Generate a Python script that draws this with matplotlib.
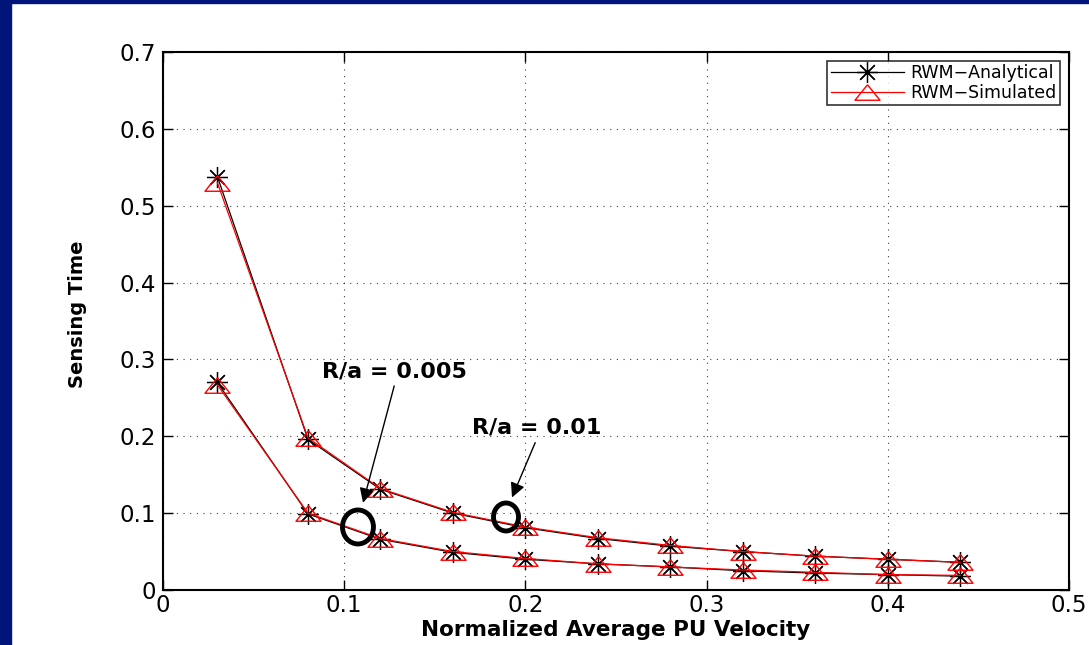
import numpy as np
import matplotlib
matplotlib.use("Agg")
import matplotlib.pyplot as plt
from matplotlib.patches import Rectangle, Ellipse

# normalized average PU velocity
velocity = [0.03, 0.08, 0.12, 0.16, 0.20, 0.24, 0.28, 0.32, 0.36, 0.40, 0.44]

# R/a = 0.01 (upper curves)
upper_analytical = [0.538, 0.196, 0.131, 0.100, 0.081, 0.067, 0.057, 0.050, 0.044, 0.040, 0.036]
upper_simulated = [0.530, 0.198, 0.132, 0.101, 0.082, 0.068, 0.058, 0.050, 0.044, 0.040, 0.036]

# R/a = 0.005 (lower curves)
lower_analytical = [0.270, 0.099, 0.066, 0.049, 0.040, 0.034, 0.030, 0.025, 0.022, 0.020, 0.018]
lower_simulated = [0.267, 0.100, 0.067, 0.050, 0.041, 0.034, 0.030, 0.026, 0.023, 0.020, 0.019]

plt.rcParams['font.family'] = ['DejaVu Sans']

fig = plt.figure(figsize=(10.89, 6.45), dpi=100)
fig.patch.set_facecolor('white')
# navy slide frame
navy = '#00147a'
fig.patches.append(Rectangle((0, 0), 11 / 1089, 1, transform=fig.transFigure, color=navy, zorder=0))
fig.patches.append(Rectangle((0, 1 - 3 / 645), 1, 3 / 645, transform=fig.transFigure, color=navy, zorder=0))

ax = fig.add_axes([163 / 1089, 55 / 645, 906 / 1089, 538 / 645])

tri = [(0, 0.62), (-1, -0.62), (1, -0.62), (0, 0.62)]
star = (8, 2, 0)

ax.plot(velocity, upper_analytical, color='black', lw=0.9, marker=star, ms=15, mew=0.9,
        label='RWM\u2212Analytical')
ax.plot(velocity, lower_analytical, color='black', lw=0.9, marker=star, ms=15, mew=0.9)
ax.plot(velocity, upper_simulated, color='red', lw=0.9, marker=tri, ms=18, mew=1,
        mfc='none', mec='red', label='RWM\u2212Simulated')
ax.plot(velocity, lower_simulated, color='red', lw=0.9, marker=tri, ms=18, mew=1,
        mfc='none', mec='red')

ax.set_xlim(0, 0.5)
ax.set_ylim(0, 0.7)
ax.set_xticks(np.arange(0, 0.51, 0.1))
ax.set_yticks(np.arange(0, 0.71, 0.1))
ax.set_xticklabels(['0', '0.1', '0.2', '0.3', '0.4', '0.5'])
ax.set_yticklabels(['0', '0.1', '0.2', '0.3', '0.4', '0.5', '0.6', '0.7'])
ax.tick_params(direction='in', length=7, width=1, top=True, right=True, labelsize=16.5)
ax.tick_params(axis='x', pad=3)
ax.tick_params(axis='y', pad=5)
ax.grid(True, linestyle=(0, (1, 5)), color='black', lw=0.8, alpha=0.75)
for s in ax.spines.values():
    s.set_linewidth(1.5)

ax.set_xlabel('Normalized Average PU Velocity', fontsize=15.5, fontweight='bold')
ax.set_ylabel('Sensing Time', fontsize=14, fontweight='bold')
ax.xaxis.set_label_coords(0.5, -0.0558)
ax.yaxis.set_label_coords(-0.084, 0.513)

leg = ax.legend(loc='upper right', fontsize=12.5, frameon=True, fancybox=False,
                edgecolor='black', borderpad=0.2, labelspacing=0.1, handlelength=4.2,
                handletextpad=0.4, borderaxespad=0.5)
leg.get_frame().set_linewidth(1.2)

# annotations
ax.add_patch(Ellipse((0.1076, 0.082), 0.0171, 0.0442, fill=False, lw=3.5, color='black', zorder=5))
ax.add_patch(Ellipse((0.1893, 0.095), 0.0138, 0.0364, fill=False, lw=3.5, color='black', zorder=5))
ax.annotate('', xy=(0.110, 0.110), xytext=(0.128, 0.269),
            arrowprops=dict(arrowstyle='-|>', color='black', lw=1, mutation_scale=22))
ax.annotate('', xy=(0.192, 0.117), xytext=(0.206, 0.195),
            arrowprops=dict(arrowstyle='-|>', color='black', lw=1, mutation_scale=22))
ax.text(0.1278, 0.284, 'R/a = 0.005', fontsize=16, fontweight='bold', ha='center', va='center')
ax.text(0.206, 0.211, 'R/a = 0.01', fontsize=16, fontweight='bold', ha='center', va='center')

fig.savefig('out.png', dpi=100)
